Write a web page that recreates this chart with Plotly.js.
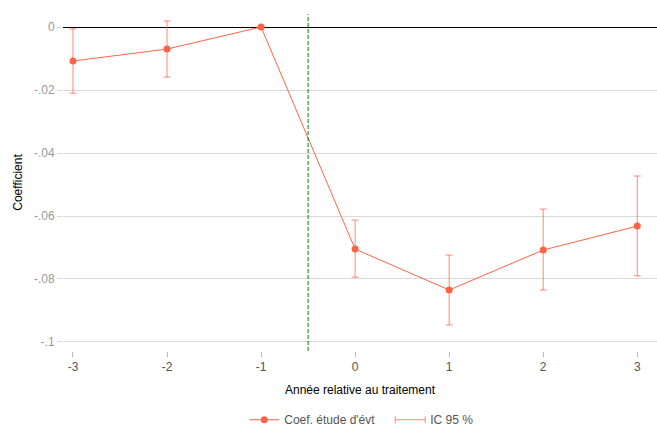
<!DOCTYPE html>
<html>
<head>
<meta charset="utf-8">
<script src="https://cdn.plot.ly/plotly-3.0.1.min.js"></script>
<style>html,body{margin:0;padding:0;background:#fff;}#chart{width:657px;height:427px;}</style>
</head>
<body>
<div id="chart"></div>
<script>
// Data
const relYears = [-3, -2, -1, 0, 1, 2, 3];
const coefs    = [-0.0108, -0.0070, 0.0000, -0.0705, -0.0835, -0.0708, -0.0632];
const ciLow    = [-0.0210, -0.0159, 0.0000, -0.0794, -0.0946, -0.0835, -0.0790];
const ciHigh   = [-0.0006,  0.0019, 0.0000, -0.0613, -0.0724, -0.0578, -0.0473];
const yTickVals  = [0, -0.02, -0.04, -0.06, -0.08, -0.1];
const yTickTexts = ['0', '-.02', '-.04', '-.06', '-.08', '-.1'];
const treatmentCut = -0.5;

const lineColor = '#ff6347';
const ciColor = 'rgba(255,99,71,0.75)';

const errPlus  = coefs.map((c, i) => ciHigh[i] - c);
const errMinus = coefs.map((c, i) => c - ciLow[i]);

const traces = [
  {
    x: relYears, y: coefs, type: 'scatter', mode: 'markers',
    marker: {size: 0.1, color: 'rgba(0,0,0,0)'},
    error_y: {type: 'data', symmetric: false, array: errPlus, arrayminus: errMinus,
              color: ciColor, thickness: 1, width: 3.5},
    showlegend: false, hoverinfo: 'skip'
  },
  {
    x: relYears, y: coefs, type: 'scatter', mode: 'lines+markers',
    name: "Coef. étude d'évt",
    line: {color: lineColor, width: 1},
    marker: {color: lineColor, size: 7}
  },
  {
    x: [null], y: [null], type: 'scatter', mode: 'lines',
    name: 'IC 95 %',
    line: {color: ciColor, width: 1}
  }
];

const layout = {
  width: 657, height: 427,
  margin: {l: 63, r: 0, t: 14, b: 76},
  paper_bgcolor: '#fff', plot_bgcolor: '#fff',
  font: {family: 'Liberation Sans, Arial, sans-serif', size: 12, color: '#000'},
  xaxis: {
    range: [-3.106, 3.21],
    tickvals: relYears, ticktext: relYears.map(String),
    showgrid: false, zeroline: false, showline: false,
    ticks: 'outside', ticklen: 5, tickcolor: '#bbbbbb', tickwidth: 1,
    tickfont: {color: '#555555', size: 12},
    title: {text: 'Année relative au traitement', font: {size: 12, color: '#000'}, standoff: 12},
    automargin: false
  },
  yaxis: {
    range: [-0.10286, 0.00413],
    tickvals: yTickVals, ticktext: yTickTexts,
    showgrid: true, gridcolor: '#d9d9d9', gridwidth: 1,
    zeroline: true, zerolinecolor: '#000000', zerolinewidth: 1,
    showline: false,
    ticks: 'outside', ticklen: 5, tickcolor: '#d9d9d9', tickwidth: 1,
    tickfont: {color: '#999999', size: 12},
    title: {text: 'Coefficient', font: {size: 12, color: '#000'}, standoff: 8},
    automargin: false
  },
  shapes: [{
    type: 'line', xref: 'x', yref: 'paper',
    x0: treatmentCut, x1: treatmentCut, y0: 0, y1: 1,
    line: {color: '#008000', width: 1, dash: '4px,2px'}
  }],
  legend: {
    orientation: 'h', xref: 'container', yref: 'container',
    x: 0.594, xanchor: 'center', y: 0.017, yanchor: 'middle',
    entrywidth: 101, entrywidthmode: 'pixels',
    font: {color: '#555555', size: 12}, bgcolor: 'rgba(0,0,0,0)'
  },
  showlegend: true
};

Plotly.newPlot('chart', traces, layout, {displayModeBar: false, staticPlot: true}).then(function (gd) {
  // add end caps to the CI legend symbol so it reads as an interval bar
  const items = gd.querySelectorAll('.legend .traces');
  const ciItem = items[items.length - 1];
  if (!ciItem) return;
  const path = ciItem.querySelector('path.js-line');
  if (!path) return;
  const bb = path.getBBox();
  const ns = 'http://www.w3.org/2000/svg';
  [bb.x, bb.x + bb.width].forEach(function (xx) {
    const ln = document.createElementNS(ns, 'line');
    ln.setAttribute('x1', xx); ln.setAttribute('x2', xx);
    ln.setAttribute('y1', bb.y - 3.5); ln.setAttribute('y2', bb.y + 3.5);
    ln.setAttribute('stroke', ciColor); ln.setAttribute('stroke-width', 1);
    path.parentNode.appendChild(ln);
  });
});
</script>
</body>
</html>
